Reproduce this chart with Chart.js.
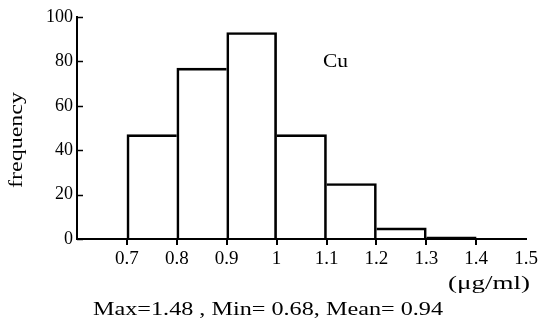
<!DOCTYPE html>
<html><head><meta charset="utf-8">
<script src="https://cdn.jsdelivr.net/npm/chart.js@4/dist/chart.umd.min.js"></script>
<style>html,body{margin:0;padding:0;background:#fff}#wrap{width:541px;height:327px}</style>
</head><body><div id="wrap"><canvas id="c" width="541" height="327"></canvas></div>
<script>
const binStarts = [0.7, 0.8, 0.9, 1.0, 1.1, 1.2, 1.3];
const binWidth = 0.1;
const frequencies = [47, 77, 93, 47, 25, 5, 1];
const xTickValues = [0.7, 0.8, 0.9, 1.0, 1.1, 1.2, 1.3, 1.4, 1.5];
const yTickValues = [0, 20, 40, 60, 80, 100];
const yAxisTitle = 'frequency';
const unitLabel = '(μg/ml)';
const seriesLabel = 'Cu';
const statsText = 'Max=1.48 , Min= 0.68, Mean= 0.94';

const FONT = "'Liberation Serif', 'DejaVu Serif', serif";
const lastEdge = binStarts[binStarts.length - 1] + binWidth;

function fitText(ctx, text, x, y, w, align) {
  const m = ctx.measureText(text).width;
  const sx = w / m;
  ctx.save();
  ctx.translate(x, y);
  ctx.scale(sx, 1);
  ctx.textAlign = align;
  ctx.fillText(text, 0, 0);
  ctx.restore();
}

function edgeWidths(i) {
  const n = frequencies.length, v = frequencies;
  return {
    top: 2, bottom: 0,
    left: (i === 0 || v[i] >= v[i - 1]) ? 2 : 0,
    right: (i === n - 1 || v[i] > v[i + 1]) ? 2 : 0
  };
}

const overlay = {
  id: 'overlay',
  afterDraw(chart) {
    const ctx = chart.ctx, xs = chart.scales.x, ys = chart.scales.y, ca = chart.chartArea;
    ctx.save();
    ctx.strokeStyle = '#000';
    ctx.lineWidth = 1.5;
    yTickValues.forEach(v => {
      const y = Math.round(ys.getPixelForValue(v)) + 0.5;
      ctx.beginPath(); ctx.moveTo(ca.left, y); ctx.lineTo(ca.left + 6, y); ctx.stroke();
    });
    ctx.fillStyle = '#000';
    ctx.textBaseline = 'middle';
    ctx.font = '18px ' + FONT;
    fitText(ctx, seriesLabel, 323, 62, 25, 'left');
    fitText(ctx, unitLabel, 530, 284, 82, 'right');
    fitText(ctx, statsText, 268, 310, 350, 'center');
    ctx.save();
    ctx.translate(17, 140);
    ctx.rotate(-Math.PI / 2);
    fitText(ctx, yAxisTitle, 0, 0, 96, 'center');
    ctx.restore();
    ctx.restore();
  }
};

new Chart(document.getElementById('c'), {
  type: 'bar',
  data: {
    datasets: [{
      data: binStarts.map((s, i) => ({ x: s + binWidth / 2, y: frequencies[i] })),
      backgroundColor: 'rgba(255,255,255,0)',
      borderColor: '#000',
      borderWidth: c => edgeWidths(c.dataIndex),
      borderSkipped: false,
      barPercentage: 1,
      categoryPercentage: 1
    }]
  },
  options: {
    responsive: false,
    animation: false,
    devicePixelRatio: 1,
    layout: { padding: { left: 0, top: 17, right: 12, bottom: 0 } },
    plugins: { legend: { display: false }, tooltip: { enabled: false } },
    scales: {
      x: {
        type: 'linear', min: 0.6, max: 1.5, offset: false,
        afterBuildTicks: s => { s.ticks = xTickValues.map(v => ({ value: v })); },
        afterFit: s => { s.height = 88; },
        ticks: {
          color: '#000', font: { family: FONT, size: 19 }, padding: 3,
          callback: v => String(+(+v).toFixed(1))
        },
        grid: {
          drawOnChartArea: false, tickLength: 6, lineWidth: 2, offset: false,
          color: c => (c.tick && c.tick.value <= lastEdge + 1e-9) ? '#000' : 'rgba(0,0,0,0)'
        },
        border: { display: true, color: '#000', width: 2 }
      },
      y: {
        min: 0, max: 100,
        afterBuildTicks: s => { s.ticks = yTickValues.map(v => ({ value: v })); },
        afterFit: s => { s.width = 77; },
        ticks: { color: '#000', font: { family: FONT, size: 18 }, padding: 4 },
        grid: { drawOnChartArea: false, drawTicks: false },
        border: { display: true, color: '#000', width: 2 }
      }
    }
  },
  plugins: [overlay]
});
</script></body></html>
